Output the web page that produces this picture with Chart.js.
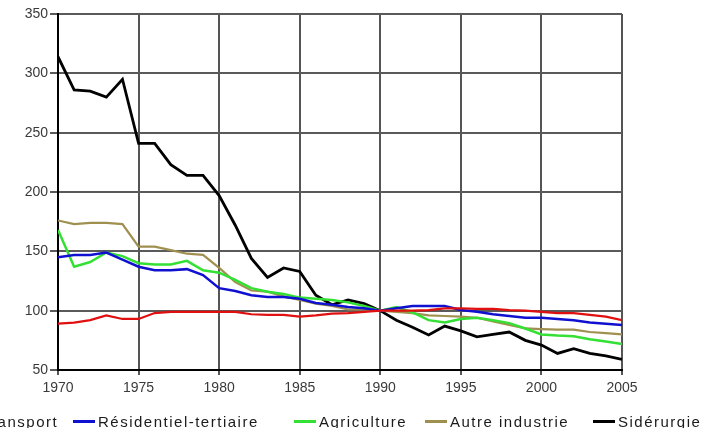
<!DOCTYPE html>
<html>
<head>
<meta charset="utf-8">
<script src="https://cdn.jsdelivr.net/npm/chart.js@4.4.0/dist/chart.umd.min.js"></script>
<style>
    html, body { margin: 0; padding: 0; background: #fff; overflow: hidden; }
    #wrap { position: relative; width: 704px; height: 428px; overflow: hidden; }
    #legende {
        position: absolute; top: 0; left: 0; width: 704px; height: 428px;
        font-family: "Liberation Sans", Arial, sans-serif; font-size: 15px; color: #1a1a1a;
        letter-spacing: 1.5px; white-space: nowrap; pointer-events: none;
    }
    #legende .marca { position: absolute; top: 420px; height: 3px; width: 22px; }
    #legende .texto { position: absolute; top: 413px; line-height: 17px; }
</style>
</head>
<body>
<div id="wrap">
    <canvas id="grafico" width="704" height="428"></canvas>
    <div id="legende"></div>
</div>
<script>
const annees = [];
for (let a = 1970; a <= 2005; a++) annees.push(a);

const transport = [89, 90, 92, 96, 93, 93, 98, 99, 99, 99, 99, 99, 97, 96.5, 96.5, 95, 96, 97.5, 98, 99,
    100, 100, 100, 100.5, 102, 102, 101.5, 101.5, 100.5, 100, 99, 98, 98, 96.5, 95, 92];
const residentiel = [145, 147, 147, 149, 143, 137, 134, 134, 135, 130, 119, 116.5, 113, 111.5, 111.5, 110, 106.5, 105, 103, 102,
    100, 102, 104, 104, 104, 100.5, 99, 97, 95.5, 94, 94, 93, 92, 90, 89, 88];
const agriculture = [168, 137, 141, 149, 146, 140, 139, 139, 142, 134, 132, 126, 119, 116, 114, 111, 110, 109, 107, 104,
    100, 103, 98.5, 92, 90, 93, 94, 92, 89.5, 85, 80, 79, 78.5, 76, 74, 72];
const autreIndustrie = [176, 173, 174, 174, 173, 154, 154, 151, 148, 147, 136, 124, 117, 116, 112, 109, 106, 104, 101, 101,
    100, 99, 98, 96, 95.5, 95, 94, 91, 88, 85, 84.5, 84, 84, 82, 81, 80];
const siderurgie = [314, 286, 285, 280, 295, 241, 241, 223, 214, 214, 197, 172, 144, 128, 136, 133, 113, 105, 109, 106,
    100, 92, 86, 79.5, 87, 83, 78, 80, 82, 75, 71, 64, 68, 64, 62, 59];

const series = [
    { nom: 'Transport', valeurs: transport, cor: '#e01010', largura: 2.2 },
    { nom: 'Résidentiel-tertiaire', valeurs: residentiel, cor: '#1010d0', largura: 2.5 },
    { nom: 'Agriculture', valeurs: agriculture, cor: '#33e033', largura: 2.5 },
    { nom: 'Autre industrie', valeurs: autreIndustrie, cor: '#a09050', largura: 2.2 },
    { nom: 'Sidérurgie', valeurs: siderurgie, cor: '#000000', largura: 2.8 }
];

const ticksY = [50, 100, 150, 200, 250, 300, 350];
const ticksX = [1970, 1975, 1980, 1985, 1990, 1995, 2000, 2005];

// légende en HTML; la première entrée déborde à gauche comme dans l'original
const posLegende = [-44, 73, 294, 425, 593];
const legende = document.getElementById('legende');
legende.innerHTML = series.map((s, i) =>
    `<div class="marca" style="left:${posLegende[i]}px;background:${s.cor}"></div>` +
    `<div class="texto" style="left:${posLegende[i] + 25}px">${s.nom}</div>`).join('');

const fonteTicks = { family: '"Liberation Sans", Arial, sans-serif', size: 14 };

const config = {
    type: 'line',
    data: {
        datasets: series.map(s => ({
            label: s.nom,
            data: annees.map((a, i) => ({ x: a, y: s.valeurs[i] })),
            borderColor: s.cor,
            borderWidth: s.largura,
            pointRadius: 0,
            tension: 0,
            fill: false
        }))
    },
    options: {
        responsive: false,
        animation: false,
        layout: { padding: { left: 0, right: 82, top: 14, bottom: 0 } },
        plugins: {
            legend: { display: false },
            tooltip: { enabled: false }
        },
        scales: {
            x: {
                type: 'linear',
                min: 1970,
                max: 2005,
                afterBuildTicks: axis => { axis.ticks = ticksX.map(v => ({ value: v })); },
                afterFit: axis => { axis.height = 58; },
                ticks: {
                    callback: v => String(v),
                    color: '#3a3a3a',
                    font: fonteTicks,
                    padding: 5,
                    maxRotation: 0
                },
                grid: { color: '#555', lineWidth: 2, tickLength: 5 },
                border: { color: '#000', width: 2 }
            },
            y: {
                min: 50,
                max: 350,
                afterBuildTicks: axis => { axis.ticks = ticksY.map(v => ({ value: v })); },
                afterFit: axis => { axis.width = 58; },
                ticks: {
                    color: '#3a3a3a',
                    font: fonteTicks,
                    padding: 2
                },
                grid: { color: '#5a5a5a', lineWidth: 2, tickLength: 8 },
                border: { color: '#000', width: 2 }
            }
        }
    }
};

window.chartEnergie = new Chart(document.getElementById('grafico').getContext('2d'), config);
</script>
</body>
</html>
